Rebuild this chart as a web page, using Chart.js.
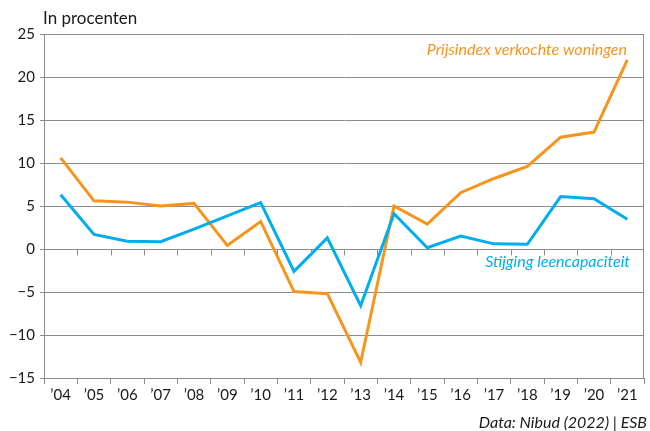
<!DOCTYPE html>
<html>
<head>
<meta charset="utf-8">
<script src="https://cdn.jsdelivr.net/npm/chart.js@4"></script>
<style>
  html, body { margin: 0; padding: 0; background: #fff; }
  #wrap { width: 650px; height: 431px; }
</style>
</head>
<body>
<div id="wrap"><canvas id="leenChart" width="650" height="431"></canvas></div>
<script>
const years = ['’04', '’05', '’06', '’07', '’08', '’09', '’10', '’11', '’12',
    '’13', '’14', '’15', '’16', '’17', '’18', '’19', '’20', '’21'];

// Prijsindex verkochte woningen
const prijsindex = [10.6, 5.6, 5.45, 5.0, 5.3, 0.4, 3.2, -4.95, -5.2,
    -13.2, 5.0, 2.9, 6.55, 8.2, 9.6, 13.0, 13.6, 22.0];

// Stijging leencapaciteit
const leencapaciteit = [6.3, 1.7, 0.9, 0.85, 2.3, 3.85, 5.4, -2.6, 1.3,
    -6.6, 4.1, 0.15, 1.5, 0.6, 0.55, 6.1, 5.85, 3.45];

const yTicks = [25, 20, 15, 10, 5, 0, -5, -10, -15];

const ORANGE = '#f7941d';
const BLUE = '#00aeef';
const GRID = '#8c8c8c';
const TEXT = '#1a1a1a';
const FONT = 'Lato, "Open Sans", sans-serif';

// texts, zero line ticks and right border
const extras = {
    id: 'extras',
    afterDraw(chart) {
        const ctx = chart.ctx;
        const area = chart.chartArea;
        const x = chart.scales.x;
        const y = chart.scales.y;
        ctx.save();

        // right border
        ctx.strokeStyle = GRID;
        ctx.lineWidth = 1;
        ctx.beginPath();
        ctx.moveTo(area.right - 0.5, area.top);
        ctx.lineTo(area.right - 0.5, area.bottom);
        ctx.stroke();

        // small ticks below zero line, between categories
        const y0 = Math.round(y.getPixelForValue(0)) + 0.5;
        const half = (x.getPixelForValue(1) - x.getPixelForValue(0)) / 2;
        ctx.beginPath();
        for (let i = 1; i < years.length; i++) {
            const px = Math.round(x.getPixelForValue(i) - half) + 0.5;
            ctx.moveTo(px, y0);
            ctx.lineTo(px, y0 + 6);
        }
        ctx.stroke();

        ctx.textBaseline = 'middle';
        ctx.fillStyle = TEXT;
        ctx.textAlign = 'left';
        ctx.font = '17px ' + FONT;
        ctx.fillText('In procenten', 43, 19);

        ctx.textAlign = 'right';
        ctx.font = 'italic 16px ' + FONT;
        ctx.fillStyle = ORANGE;
        ctx.fillText('Prijsindex verkochte woningen', 627, 50);
        ctx.fillStyle = BLUE;
        ctx.fillText('Stijging leencapaciteit', 630, 262);

        ctx.fillStyle = TEXT;
        ctx.fillText('Data: Nibud (2022) | ESB', 647, 423);
        ctx.restore();
    }
};

const canvasRef = document.getElementById('leenChart').getContext('2d');

new Chart(canvasRef, {
    type: 'line',
    data: {
        labels: years,
        datasets: [
            {
                label: 'Prijsindex verkochte woningen',
                data: prijsindex,
                borderColor: ORANGE,
                borderWidth: 3,
                pointRadius: 0,
                tension: 0,
                order: 2
            },
            {
                label: 'Stijging leencapaciteit',
                data: leencapaciteit,
                borderColor: BLUE,
                borderWidth: 3,
                pointRadius: 0,
                tension: 0,
                order: 1
            }
        ]
    },
    options: {
        responsive: false,
        animation: false,
        layout: { padding: { left: 0, right: 6, top: 34, bottom: 0 } },
        plugins: {
            legend: { display: false },
            tooltip: { enabled: false }
        },
        scales: {
            x: {
                offset: true,
                grid: {
                    offset: true,
                    drawOnChartArea: false,
                    drawTicks: true,
                    tickLength: 6,
                    color: GRID
                },
                border: { color: GRID },
                ticks: {
                    color: TEXT,
                    font: { family: FONT, size: 15 },
                    padding: 2,
                    maxRotation: 0,
                    autoSkip: false
                },
                afterFit(scale) { scale.height = 53; }
            },
            y: {
                min: -15,
                max: 25,
                grid: {
                    color: GRID,
                    tickLength: 4
                },
                border: { color: GRID },
                ticks: {
                    stepSize: 5,
                    color: TEXT,
                    padding: 5,
                    font: { family: FONT, size: 15 },
                    callback: v => yTicks.includes(v) ? (v < 0 ? '−' + Math.abs(v) : String(v)) : ''
                },
                afterFit(scale) { scale.width = 44; }
            }
        }
    },
    plugins: [extras]
});
</script>
</body>
</html>
